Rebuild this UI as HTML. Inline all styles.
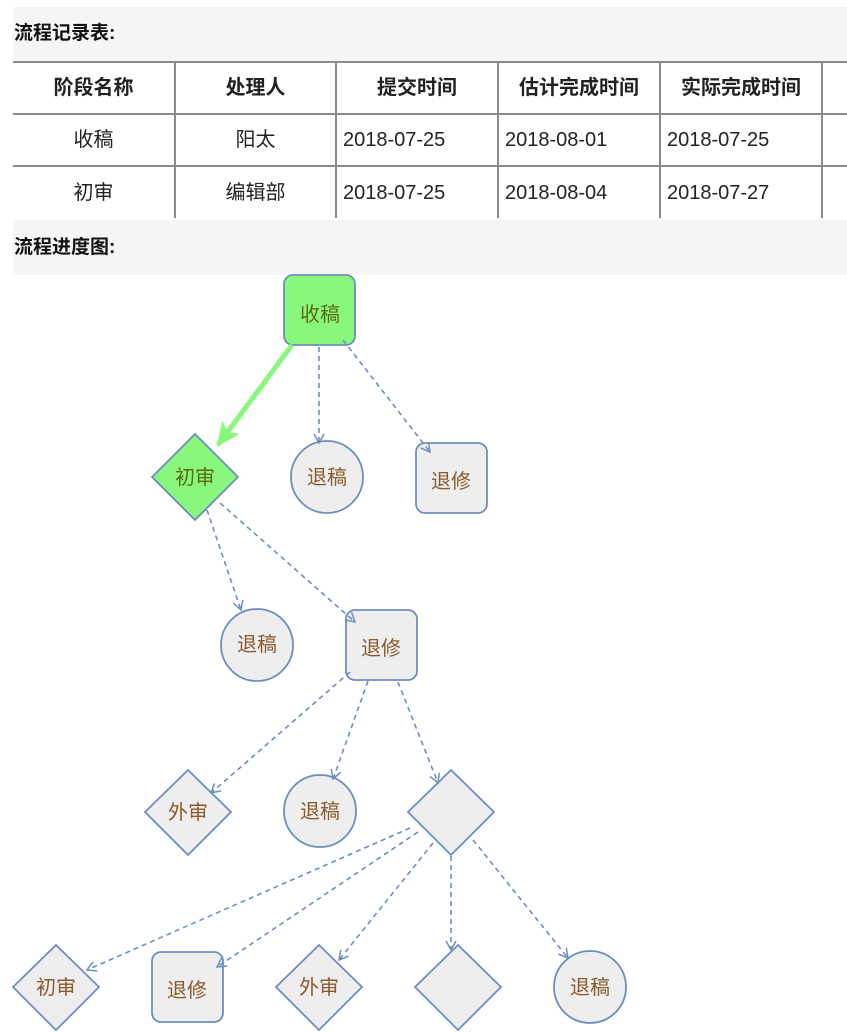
<!DOCTYPE html>
<html><head><meta charset="utf-8"><style>
body{margin:0;width:847px;height:1032px;background:#fff;position:relative;overflow:hidden;font-family:"Liberation Sans","Noto Sans CJK SC",sans-serif;}
.band{position:absolute;left:13px;width:834px;background:#f5f5f5;font-weight:bold;font-size:19px;color:#111;box-sizing:border-box;padding-left:1px;}
table{position:absolute;left:13px;top:61px;border-collapse:collapse;table-layout:fixed;width:846px;font-size:20px;color:#222;}
td,th{border:2px solid #8a8a8a;height:52px;padding:0 0 0 6px;box-sizing:border-box;vertical-align:middle;line-height:48px;}
th{font-weight:bold;text-align:center;padding:0;}
tr>*:first-child{border-left:none;}
tr:last-child td{border-bottom:none;}
.c{text-align:center;padding:0;}
</style></head><body>
<div class="band" style="top:7px;height:54px;line-height:54px;">流程记录表:</div>
<table>
<tr><th style="width:162px">阶段名称</th><th style="width:161px">处理人</th><th style="width:162px">提交时间</th><th style="width:162px">估计完成时间</th><th style="width:162px">实际完成时间</th><th style="border-right:none"></th></tr>
<tr><td class="c">收稿</td><td class="c">阳太</td><td>2018-07-25</td><td>2018-08-01</td><td>2018-07-25</td><td style="border-right:none"></td></tr>
<tr><td class="c">初审</td><td class="c">编辑部</td><td>2018-07-25</td><td>2018-08-04</td><td>2018-07-27</td><td style="border-right:none"></td></tr>
</table>
<div class="band" style="top:220px;height:55px;line-height:55px;">流程进度图:</div>
<svg width="847" height="1032" style="position:absolute;left:0;top:0" font-family="Liberation Sans,Noto Sans CJK SC,sans-serif">
<defs>
<marker id="a" markerWidth="12" markerHeight="12" refX="10" refY="6" orient="auto" markerUnits="userSpaceOnUse"><path d="M1,1 L10,6 L1,11" fill="none" stroke="#6c8ebf" stroke-width="1.5"/></marker>
<marker id="g" markerWidth="26" markerHeight="26" refX="22" refY="13" orient="auto" markerUnits="userSpaceOnUse"><path d="M0,2 L24,13 L0,24 L6,13 Z" fill="#88f77c"/></marker>
</defs>
<g stroke="#6c8ebf" stroke-width="1.8" fill="#eeeeee">
<rect x="284" y="275" width="71" height="70" rx="9" fill="#88f77c"/>
<polygon points="195,434 238,477 195,520 152,477" fill="#88f77c"/>
<circle cx="327" cy="477" r="36"/>
<rect x="416" y="443" width="71" height="70" rx="9"/>
<circle cx="257" cy="645" r="36"/>
<rect x="346" y="610" width="71" height="70" rx="9"/>
<polygon points="188,770 231,812 188,855 145,812"/>
<circle cx="320" cy="811" r="36"/>
<polygon points="451,770 494,812 451,855 408,812"/>
<polygon points="56,945 99,987 56,1030 13,987"/>
<rect x="152" y="952" width="71" height="70" rx="9"/>
<polygon points="319,945 362,987 319,1030 276,987"/>
<polygon points="458,945 501,987 458,1030 415,987"/>
<circle cx="590" cy="987" r="36"/>
</g>
<g stroke="#6c8ebf" stroke-width="1.6" stroke-dasharray="5,4" fill="none" marker-end="url(#a)">
<line x1="319" y1="347" x2="319" y2="443"/>
<line x1="343" y1="340" x2="430" y2="452"/>
<line x1="207" y1="510" x2="241" y2="610"/>
<line x1="220" y1="503" x2="355" y2="622"/>
<line x1="350" y1="672" x2="211" y2="793"/>
<line x1="368" y1="681" x2="333" y2="779"/>
<line x1="398" y1="682" x2="438" y2="783"/>
<line x1="410" y1="828" x2="87" y2="970"/>
<line x1="418" y1="832" x2="217" y2="967"/>
<line x1="433" y1="843" x2="339" y2="960"/>
<line x1="451" y1="856" x2="451" y2="950"/>
<line x1="473" y1="840" x2="568" y2="958"/>
</g>
<line x1="292" y1="345" x2="218" y2="445" stroke="#88f77c" stroke-width="5" marker-end="url(#g)"/>
<g font-size="20" text-anchor="middle" fill="#8b5a2b">
<text x="320" y="321" fill="#5b6b10">收稿</text>
<text x="195" y="484" fill="#5b6b10">初审</text>
<text x="327" y="484">退稿</text>
<text x="451" y="488">退修</text>
<text x="257" y="651">退稿</text>
<text x="381" y="655">退修</text>
<text x="188" y="819">外审</text>
<text x="320" y="818">退稿</text>
<text x="56" y="994">初审</text>
<text x="187" y="997">退修</text>
<text x="319" y="994">外审</text>
<text x="590" y="994">退稿</text>
</g>
</svg>
</body></html>
